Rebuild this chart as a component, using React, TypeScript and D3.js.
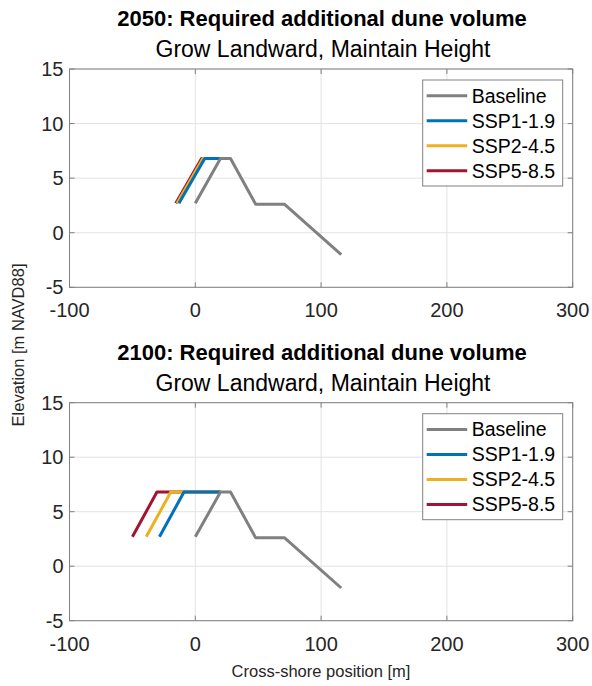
import React from "react";
import * as d3 from "d3";

const xTicks = [-100, 0, 100, 200, 300];
const yTicks = [-5, 0, 5, 10, 15];
const seriesNames = ["Baseline", "SSP1-1.9", "SSP2-4.5", "SSP5-8.5"];
const seriesColors = ["#808080", "#0072BD", "#EDB120", "#A2142F"];

const baselineX = [0, 20, 28, 48, 71, 116];
const baselineY = [2.7, 6.8, 6.8, 2.6, 2.6, -2];

const scenarioY = [2.7, 6.8, 6.8];
const ssp119X2050 = [-13, 7.5, 20];
const ssp245X2050 = [-14.5, 6, 20];
const ssp585X2050 = [-15.5, 5, 20];
const ssp119X2100 = [-28.5, -9, 20];
const ssp245X2100 = [-39, -19.5, 20];
const ssp585X2100 = [-50, -30.5, 20];

const panelTitles = ["2050: Required additional dune volume", "2100: Required additional dune volume"];
const subtitle = "Grow Landward, Maintain Height";

const W = 592, H = 686;
const left = 69.5, right = 572.7;
const panels = [
  { top: 69, bottom: 287.3, title: panelTitles[0], xs: [baselineX, ssp119X2050, ssp245X2050, ssp585X2050] },
  { top: 402.7, bottom: 620.7, title: panelTitles[1], xs: [baselineX, ssp119X2100, ssp245X2100, ssp585X2100] },
];

const FONT = "'Liberation Sans', Arial, Helvetica, sans-serif";

function Panel({ p }: { p: typeof panels[0] }) {
  const x = d3.scaleLinear().domain([-100, 300]).range([left, right]);
  const y = d3.scaleLinear().domain([-5, 15]).range([p.bottom, p.top]);
  const line = d3.line<[number, number]>().x(d => x(d[0])).y(d => y(d[1]));
  const ys = [baselineY, scenarioY, scenarioY, scenarioY];
  const order = [3, 2, 1, 0];
  const legL = left + 353.2, legT = p.top + 11, legW = 140, legH = 106;
  return (
    <g>
      <text x={322} y={p.top - 43} textAnchor="middle" fontFamily={FONT} fontWeight="bold" fontSize={22} fill="#000">{p.title}</text>
      <text x={323} y={p.top - 12} textAnchor="middle" fontFamily={FONT} fontSize={23} fill="#000">{subtitle}</text>
      <rect x={left} y={p.top} width={right - left} height={p.bottom - p.top} fill="#fff" />
      {xTicks.map(t => (
        <line key={"gx" + t} x1={x(t)} x2={x(t)} y1={p.top} y2={p.bottom} stroke="#e3e3e3" strokeWidth={1} />
      ))}
      {yTicks.map(t => (
        <line key={"gy" + t} x1={left} x2={right} y1={y(t)} y2={y(t)} stroke="#e3e3e3" strokeWidth={1} />
      ))}
      {order.map(i => (
        <path key={"s" + i} d={line(p.xs[i].map((v, k) => [v, ys[i][k]] as [number, number])) || ""}
          fill="none" stroke={seriesColors[i]} strokeWidth={3} strokeLinejoin="round" />
      ))}
      <rect x={left} y={p.top} width={right - left} height={p.bottom - p.top} fill="none" stroke="#808080" strokeWidth={1} />
      {xTicks.map(t => (
        <g key={"tx" + t}>
          <line x1={x(t)} x2={x(t)} y1={p.bottom} y2={p.bottom - 5} stroke="#808080" />
          <line x1={x(t)} x2={x(t)} y1={p.top} y2={p.top + 5} stroke="#808080" />
          <text x={x(t)} y={p.bottom + 30} textAnchor="middle" fontFamily={FONT} fontSize={20} fill="#262626">{t}</text>
        </g>
      ))}
      {yTicks.map(t => (
        <g key={"ty" + t}>
          <line x1={left} x2={left + 5} y1={y(t)} y2={y(t)} stroke="#808080" />
          <line x1={right} x2={right - 5} y1={y(t)} y2={y(t)} stroke="#808080" />
          <text x={left - 6} y={y(t) + 7} textAnchor="end" fontFamily={FONT} fontSize={20} fill="#262626">{t}</text>
        </g>
      ))}
      <rect x={legL} y={legT} width={legW} height={legH} fill="#fff" stroke="#808080" strokeWidth={1} />
      {seriesNames.map((n, i) => (
        <g key={"l" + n}>
          <line x1={legL + 4} x2={legL + 44.5} y1={legT + 15.7 + i * 25} y2={legT + 15.7 + i * 25} stroke={seriesColors[i]} strokeWidth={3} />
          <text x={legL + 49} y={legT + 15.7 + i * 25 + 7} fontFamily={FONT} fontSize={19.5} fill="#000">{n}</text>
        </g>
      ))}
    </g>
  );
}

export default function App() {
  return (
    <svg width={W} height={H} style={{ display: "block", position: "absolute", left: 0, top: 0, background: "#fff" }}>
      <rect x={0} y={0} width={W} height={H} fill="#fff" />
      {panels.map((p, i) => <Panel key={i} p={p} />)}
      <text transform={`translate(24,345) rotate(-90)`} textAnchor="middle" fontFamily={FONT} fontSize={16.5} fill="#262626">Elevation [m NAVD88]</text>
      <text x={321} y={677} textAnchor="middle" fontFamily={FONT} fontSize={16.5} fill="#262626">Cross-shore position [m]</text>
    </svg>
  );
}
